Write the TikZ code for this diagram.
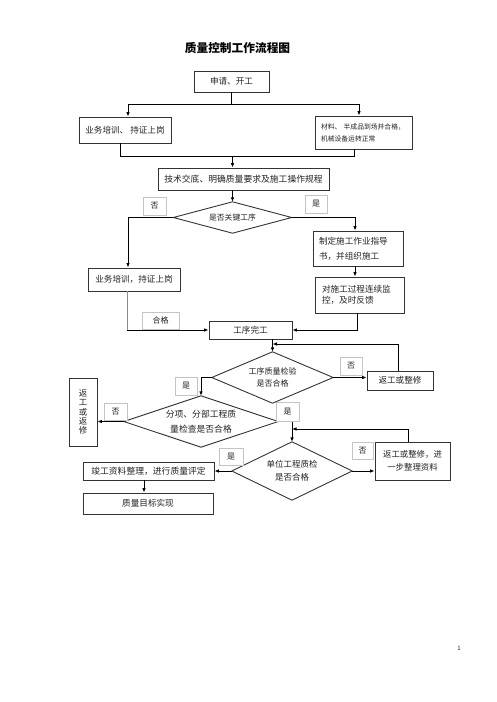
\documentclass[tikz,border=0pt]{standalone}
\usepackage{fontspec}
\setmainfont{Noto Sans CJK SC}
\usetikzlibrary{arrows.meta,calc}
\definecolor{boxc}{HTML}{333333}
\definecolor{labc}{HTML}{C4C4C4}
\definecolor{txt}{HTML}{222222}
\begin{document}
\begin{tikzpicture}[x=1pt,y=-1pt,
  box/.style={draw=boxc, line width=0.9pt, inner sep=0pt, text=txt, align=center,
    font=\fontsize{8.6}{10}\selectfont},
  dia/.style={draw=none, inner sep=0pt, text=txt, align=center},
  dline/.style={draw=boxc, line width=0.9pt},
  lab/.style={draw=labc, line width=0.6pt, fill=white, inner sep=0pt, text=txt,
    font=\fontsize{8}{9}\selectfont},
  conn/.style={line width=1pt, draw=black},
  arr/.style={conn, -{Latex[length=4.5pt,width=3.6pt]}},
  gline/.style={line width=0.9pt, draw=black!45}]
\useasboundingbox (0,0) rectangle (496,702);

% title
\node[font=\fontsize{11.7}{13}\selectfont\bfseries, text=black] (title) at (237.5,48) {质量控制工作流程图};

% boxes
\node[box, minimum width=75pt, minimum height=21pt] (b1) at (231.5,81.5) {申请、开工};
\node[box, minimum width=92pt, minimum height=26pt] (b2L) at (125,130) {业务培训、 持证上岗};
\node[box, text width=85pt, inner xsep=6pt, align=left, minimum height=33pt,
  font=\fontsize{6.8}{12}\selectfont] (b2R) at (363.5,132.5) {\mbox{材料、 半成品到场并合格，}\\机械设备运转正常};
\node[box, minimum width=171pt, minimum height=22pt, font=\fontsize{8.8}{10}\selectfont] (b3) at (243.5,179) {技术交底、明确质量要求及施工操作规程};
\node[dia, minimum width=118pt, minimum height=31pt, font=\fontsize{7.8}{9}\selectfont] (d1) at (232.5,217.5) {是否关键工序};
\node[box, text width=78pt, inner xsep=6pt, align=left, minimum height=35pt,
  font=\fontsize{8.6}{15}\selectfont] (b4R) at (358,248.5) {制定施工作业指导\\书，并组织施工};
\node[box, minimum width=92pt, minimum height=23pt] (b4L) at (134,279.5) {业务培训，持证上岗};
\node[box, text width=75pt, inner xsep=7pt, align=left, minimum height=36pt,
  font=\fontsize{8.6}{11.5}\selectfont] (b5R) at (359.5,295) {对施工过程连续监\\控，及时反馈};
\node[box, minimum width=83pt, minimum height=18pt] (b6) at (250.5,330) {工序完工};
\node[dia, minimum width=121pt, minimum height=51pt, font=\fontsize{8}{12.5}\selectfont] (d2) at (272.5,377.5) {工序质量检验\\是否合格};
\node[box, minimum width=66pt, minimum height=19pt] (b7) at (400,380.5) {返工或整修};
\node[dia, minimum width=154pt, minimum height=51pt, font=\fontsize{8.8}{15}\selectfont] (d3) at (201,421.5) {分项、分部工程质\\量检查是否合格};
\node[box, minimum width=28pt, minimum height=68pt, font=\fontsize{8.4}{9.3}\selectfont] (vb) at (83,412) {返\\工\\或\\返\\修};
\node[dia, minimum width=120pt, minimum height=58pt, font=\fontsize{8.5}{13}\selectfont] (d4) at (292,471) {单位工程质检\\是否合格};
\node[box, minimum width=75pt, minimum height=38pt, font=\fontsize{8.4}{13}\selectfont] (b8) at (412.5,461) {返工或整修，进\\一步整理资料};
\node[box, minimum width=131pt, minimum height=18pt, font=\fontsize{8.8}{10}\selectfont] (b9) at (148.5,471) {竣工资料整理，进行质量评定};
\node[box, minimum width=130pt, minimum height=21pt] (b10) at (148,503.5) {质量目标实现};

% diamonds
\foreach \d in {d1,d2,d3,d4}
  \draw[dline] (\d.north) -- (\d.east) -- (\d.south) -- (\d.west) -- cycle;

% connectors
\coordinate (j1) at (231.5,104);
\coordinate (j1L) at (128,104);
\coordinate (j1R) at (359,104);
\draw[conn] (b1.south) -- (j1);
\draw[conn] (j1L) -- (j1R);
\draw[arr] (j1L) -- (j1L |- b2L.north);
\draw[arr] (j1R) -- (j1R |- b2R.north);

\coordinate (j2) at (232.5,156);
\coordinate (j2L) at (120,156);
\coordinate (j2R) at (354,156);
\draw[conn] (j2L |- b2L.south) -- (j2L) -- (j2R) -- (j2R |- b2R.south);
\draw[arr] (j2) -- (j2 |- b3.north);
\draw[arr] (b3.south -| d1.north) -- (d1.north);

\coordinate (k1) at (128,217.5);
\coordinate (k2) at (355,217.5);
\draw[arr] (d1.west) -- (k1) -- (k1 |- b4L.north);
\draw[arr] (d1.east) -- (k2) -- (k2 |- b4R.north);
\draw[arr] (k2 |- b4R.south) -- (k2 |- b5R.north);

\coordinate (k3) at (127,330);
\coordinate (k4) at (357,330);
\draw[gline] (k3 |- b4L.south) -- (k3);
\draw[arr] (k3) -- (b6.west);
\draw[arr] (k4 |- b5R.south) -- (k4) -- (b6.east);
\draw[arr] (b6.south -| d2.north) -- (d2.north);

\coordinate (k5) at (398,344);
\draw[arr] (k5 |- b7.north) -- (k5) -- (d2.north |- k5);
\draw[arr] (d2.east) -- (d2.east -| b7.west);
\draw[arr] (d2.west) -| (d3.north);
\draw[arr] (d3.west) -- (d3.west -| vb.east);
\draw[arr] (d3.east) -| (d4.north);

\coordinate (k7) at (408,429);
\draw[arr] (k7 |- b8.north) -- (k7) -- (d4.north |- k7);
\draw[arr] (d4.west) -- (d4.west -| b9.east);
\draw[arr] (d4.east) -- (d4.east -| b8.west);
\coordinate (k8) at (144,0);
\draw[arr] (b9.south -| k8) -- (b10.north -| k8);

% labels
\node[lab, minimum width=23pt, minimum height=18pt] (L1) at (154.5,206) {否};
\node[lab, minimum width=22pt, minimum height=18pt] (L2) at (316,204) {是};
\node[lab, minimum width=37pt, minimum height=17pt] (L3) at (160.5,320.5) {合格};
\node[lab, minimum width=22pt, minimum height=18pt] (L4) at (351,366) {否};
\node[lab, minimum width=22pt, minimum height=18pt] (L5) at (186,386) {是};
\node[lab, minimum width=23pt, minimum height=17pt] (L6) at (115.5,411.5) {否};
\node[lab, minimum width=23pt, minimum height=19pt] (L7) at (287.5,411.5) {是};
\node[lab, minimum width=24pt, minimum height=17pt] (L8) at (231,456.5) {是};
\node[lab, minimum width=21pt, minimum height=17pt] (L9) at (362.5,450.5) {否};

% page number
\node[font=\fontsize{6}{7}\selectfont, text=txt] (pg) at (459,648) {1};
\end{tikzpicture}
\end{document}
